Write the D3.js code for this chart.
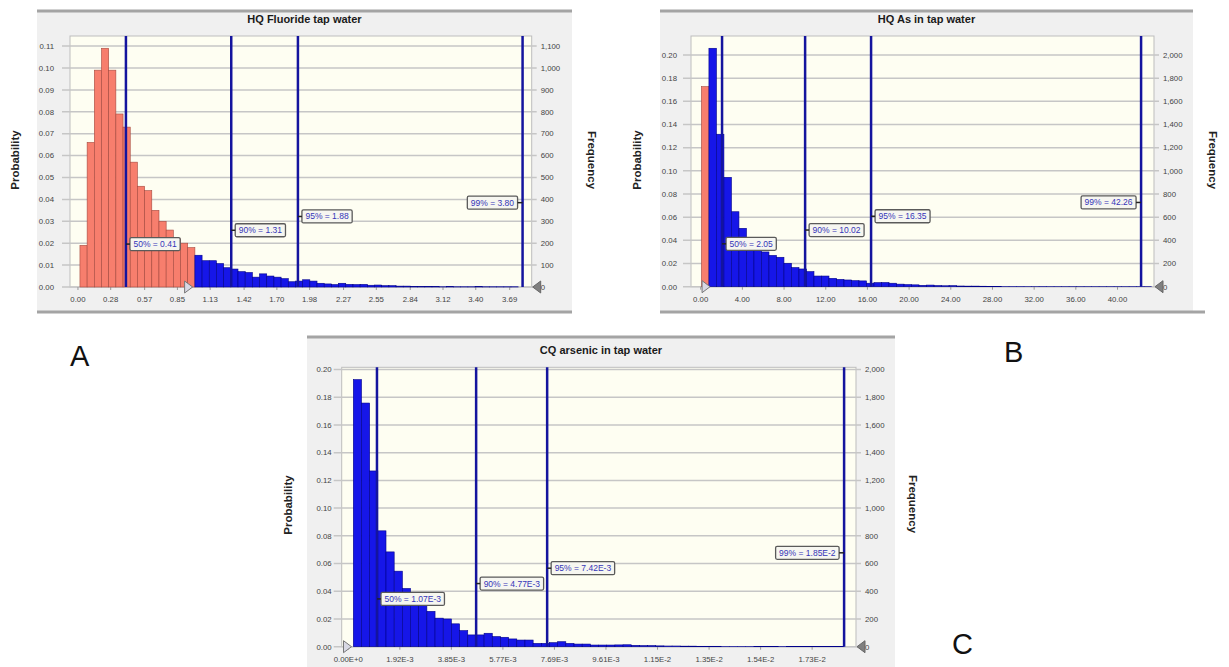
<!DOCTYPE html>
<html lang="en">
<head>
<meta charset="UTF-8">
<script src="https://d3js.org/d3.v7.min.js"></script>
<title>index</title>
<style>
    body { margin: 0; background: #fff; }
    svg { display: block; font-family: "Liberation Sans", Arial, sans-serif; }
</style>
</head>
<body>
<div id="chart"></div>
<script>
// ---- A: HQ fluoride ----
var fluorideTitle = 'HQ Fluoride tap water';
var fluorideBinStart = 0.017;
var fluorideBinWidth = 0.0614;
var fluorideRedBins = 16;
var fluorideProb = [
    0.019, 0.066, 0.099, 0.109, 0.099, 0.079, 0.073, 0.057, 0.046, 0.044, 0.035, 0.030, 0.026, 0.022, 0.020, 0.018,
    0.0145, 0.012, 0.012, 0.0107, 0.0088, 0.0082, 0.007, 0.0066, 0.0045, 0.006, 0.005, 0.0045, 0.0038, 0.0024, 0.0027, 0.0033, 0.0027,
    0.0017, 0.0014, 0.0011, 0.0017, 0.0012, 0.0011, 0.0012, 0.0008, 0.0009, 0.0006, 0.0006, 0.0004, 0.0004, 0.0003,
    0.0002, 0.0003, 0.0002, 0.0001, 0.0002, 0.0001, 0.0001, 0.0001, 0.0002, 0.0001, 0.0001, 0.0001, 0.0001, 0.0001
];
var fluorideXTicks = ['0.00', '0.28', '0.57', '0.85', '1.13', '1.42', '1.70', '1.98', '2.27', '2.55', '2.84', '3.12', '3.40', '3.69'];
var fluorideProbTicks = [0, 0.01, 0.02, 0.03, 0.04, 0.05, 0.06, 0.07, 0.08, 0.09, 0.10, 0.11];
var fluorideFreqTicks = [0, 100, 200, 300, 400, 500, 600, 700, 800, 900, 1000, 1100];
var fluoridePctNames = ['50%', '90%', '95%', '99%'];
var fluoridePctValues = [0.41, 1.31, 1.88, 3.80];
var fluoridePctText = ['0.41', '1.31', '1.88', '3.80'];
var fluorideCertainty = 0.98;

// ---- B: HQ arsenic ----
var hqAsTitle = 'HQ As in tap water';
var hqAsBinStart = 0.07;
var hqAsBinWidth = 0.72;
var hqAsRedBins = 1;
var hqAsProb = [
    0.1727, 0.2058, 0.1316, 0.0944, 0.0647, 0.0504, 0.040, 0.034, 0.030, 0.027, 0.0254, 0.0202, 0.0165, 0.0153, 0.013,
    0.0092, 0.0092, 0.0072, 0.0063, 0.0058, 0.0052, 0.005, 0.003, 0.0035, 0.0036, 0.0030, 0.0022, 0.0018, 0.0016, 0.0012,
    0.0014, 0.0010, 0.0008, 0.0009, 0.0006, 0.0005, 0.0005, 0.0004, 0.0003, 0.0003, 0.0002, 0.0002, 0.0002, 0.0001, 0.0001,
    0.0002, 0.0001, 0.0001, 0.0001, 0.0001, 0.0001, 0.0001, 0.0001, 0.0001, 0.0001, 0.0001, 0.0001, 0.0001, 0.0001, 0.0001
];
var hqAsXTicks = ['0.00', '4.00', '8.00', '12.00', '16.00', '20.00', '24.00', '28.00', '32.00', '36.00', '40.00'];
var hqAsProbTicks = [0, 0.02, 0.04, 0.06, 0.08, 0.10, 0.12, 0.14, 0.16, 0.18, 0.20];
var hqAsFreqTicks = [0, 200, 400, 600, 800, 1000, 1200, 1400, 1600, 1800, 2000];
var hqAsPctNames = ['50%', '90%', '95%', '99%'];
var hqAsPctValues = [2.05, 10.02, 16.35, 42.26];
var hqAsPctText = ['2.05', '10.02', '16.35', '42.26'];
var hqAsCertainty = 0.9;

// ---- C: CQ arsenic ----
var cqAsTitle = 'CQ arsenic in tap water';
var cqAsBinStart = 0.000187;
var cqAsBinWidth = 0.000305;
var cqAsRedBins = 0;
var cqAsProb = [
    0.1927, 0.1758, 0.1268, 0.0836, 0.0684, 0.0545, 0.042, 0.036, 0.0296, 0.0255, 0.0206, 0.020, 0.0165, 0.0116, 0.0085,
    0.0085, 0.0097, 0.0073, 0.0068, 0.0056, 0.0048, 0.0048, 0.0024, 0.0024, 0.0029, 0.0036, 0.0024, 0.0019, 0.0019, 0.0012,
    0.0012, 0.0012, 0.0013, 0.0014, 0.0010, 0.0008, 0.0008, 0.0006, 0.0005, 0.0005, 0.0004, 0.0004, 0.0003, 0.0003, 0.0003,
    0.0002, 0.0002, 0.0002, 0.0002, 0.0001, 0.0001, 0.0001, 0.0002, 0.0001, 0.0001, 0.0001, 0.0001, 0.0001, 0.0001, 0.0001
];
var cqAsXTicks = ['0.00E+0', '1.92E-3', '3.85E-3', '5.77E-3', '7.69E-3', '9.61E-3', '1.15E-2', '1.35E-2', '1.54E-2', '1.73E-2'];
var cqAsXTickValues = [0, 0.001923, 0.003846, 0.005769, 0.007692, 0.009615, 0.011538, 0.013462, 0.015385, 0.017308];
var cqAsProbTicks = [0, 0.02, 0.04, 0.06, 0.08, 0.10, 0.12, 0.14, 0.16, 0.18, 0.20];
var cqAsFreqTicks = [0, 200, 400, 600, 800, 1000, 1200, 1400, 1600, 1800, 2000];
var cqAsPctNames = ['50%', '90%', '95%', '99%'];
var cqAsPctValues = [0.00107, 0.00477, 0.00742, 0.0185];
var cqAsPctText = ['1.07E-3', '4.77E-3', '7.42E-3', '1.85E-2'];
var cqAsCertainty = 0.00012;

var width = 1229;
var height = 667;

var svg = d3.select('#chart')
    .append('svg')
        .attr('width', width)
        .attr('height', height);

svg.append('rect').attr('width', width).attr('height', height).attr('fill', '#fff');

function drawPanel(p) {
    var g = svg.append('g');

    // panel frame
    g.append('rect')
        .attr('x', p.box[0]).attr('y', p.box[1])
        .attr('width', p.box[2] - p.box[0]).attr('height', p.box[3] - p.box[1])
        .attr('fill', '#f0f0f0');
    g.append('line')
        .attr('x1', p.box[0]).attr('x2', p.box[2])
        .attr('y1', p.box[1]).attr('y2', p.box[1])
        .attr('stroke', '#a4a4a4').attr('stroke-width', 3);
    if (p.bottomLine) {
        g.append('line')
            .attr('x1', p.box[0]).attr('x2', p.bottomLine)
            .attr('y1', p.box[3]).attr('y2', p.box[3])
            .attr('stroke', '#a4a4a4').attr('stroke-width', 3);
    }

    g.append('text')
        .attr('x', (p.box[0] + p.box[2]) / 2)
        .attr('y', p.titleY)
        .attr('text-anchor', 'middle')
        .attr('font-size', 11)
        .attr('font-weight', 'bold')
        .attr('fill', '#1a1a1a')
        .text(p.title);

    var x = d3.scaleLinear().domain(p.xDomain).range([p.plot[0], p.plot[2]]);
    var y = d3.scaleLinear().domain([0, p.yMax]).range([p.plot[3], p.plot[1]]);
    var yf = d3.scaleLinear().domain([0, p.yMax * 10000]).range([p.plot[3], p.plot[1]]);

    g.append('rect')
        .attr('x', p.plot[0]).attr('y', p.plot[1])
        .attr('width', p.plot[2] - p.plot[0]).attr('height', p.plot[3] - p.plot[1])
        .attr('fill', '#fefef2')
        .attr('stroke', '#bdbdbd');

    // grid lines + left ticks
    g.selectAll('.grid')
        .data(p.probTicks)
        .enter()
        .append('line')
            .attr('x1', p.plot[0] - 8).attr('x2', p.plot[2] + 5)
            .attr('y1', function(d) { return y(d); })
            .attr('y2', function(d) { return y(d); })
            .attr('stroke', '#c6c6c6')
            .attr('stroke-width', 1.5);

    g.selectAll('.ylab')
        .data(p.probTicks)
        .enter()
        .append('text')
            .attr('x', p.plot[0] - p.yLabGap)
            .attr('y', function(d) { return y(d) + 2.8; })
            .attr('text-anchor', 'end')
            .attr('font-size', 7.8)
            .attr('fill', '#444')
            .text(d3.format('.2f'));

    g.selectAll('.flab')
        .data(p.freqTicks)
        .enter()
        .append('text')
            .attr('x', p.plot[2] + 9)
            .attr('y', function(d) { return yf(d) + 2.8; })
            .attr('font-size', 7.8)
            .attr('fill', '#444')
            .text(d3.format(','));

    // x ticks
    g.selectAll('.xtick')
        .data(p.xTickValues)
        .enter()
        .append('line')
            .attr('x1', function(d) { return x(d); })
            .attr('x2', function(d) { return x(d); })
            .attr('y1', p.plot[3]).attr('y2', p.plot[3] + 3)
            .attr('stroke', '#999');

    g.selectAll('.xlab')
        .data(p.xTicks)
        .enter()
        .append('text')
            .attr('x', function(d, i) { return x(p.xTickValues[i]); })
            .attr('y', p.plot[3] + 15)
            .attr('text-anchor', 'middle')
            .attr('font-size', 7.8)
            .attr('fill', '#444')
            .text(function(d) { return d; });

    // histogram bars
    var bw = x(p.binWidth) - x(0);
    g.selectAll('.bar')
        .data(p.prob)
        .enter()
        .append('rect')
            .attr('x', function(d, i) { return x(p.binStart + i * p.binWidth); })
            .attr('width', bw)
            .attr('y', function(d) { return y(d); })
            .attr('height', function(d) { return p.plot[3] - y(d); })
            .attr('fill', function(d, i) { return i < p.redBins ? '#f77e6d' : '#1616e8'; })
            .attr('stroke', function(d, i) { return i < p.redBins ? '#a5493f' : '#00008a'; })
            .attr('stroke-width', 0.6);

    // percentile lines
    g.selectAll('.pct')
        .data(p.pctValues)
        .enter()
        .append('line')
            .attr('x1', function(d) { return x(d); })
            .attr('x2', function(d) { return x(d); })
            .attr('y1', p.plot[1]).attr('y2', p.plot[3])
            .attr('stroke', '#14149e')
            .attr('stroke-width', 2.5);

    // percentile labels
    var ph = p.plot[3] - p.plot[1];
    p.pctValues.forEach(function(v, i) {
        var cy = p.plot[3] - ph * (0.171 + 0.055 * i);
        var lx = x(v);
        var label = g.append('g');
        var t = label.append('text')
            .attr('font-size', 8.5)
            .attr('fill', '#3535b8')
            .text(p.pctNames[i] + ' = ' + p.pctText[i]);
        var tw = t.node().getComputedTextLength();
        var boxW = tw + 7;
        var left = i === 3;
        var bx = left ? lx - 5 - boxW : lx + 4;
        label.insert('rect', 'text')
            .attr('x', bx).attr('y', cy - 6.5)
            .attr('width', boxW).attr('height', 13)
            .attr('rx', 1.5)
            .attr('fill', '#f6f6f0')
            .attr('stroke', '#5a5a5a')
            .attr('stroke-width', 1.3);
        t.attr('x', bx + 3.5).attr('y', cy + 3);
        label.append('line')
            .attr('x1', lx).attr('x2', left ? bx + boxW : bx)
            .attr('y1', cy).attr('y2', cy)
            .attr('stroke', '#222').attr('stroke-width', 1.5);
    });

    // certainty grabbers
    var by = p.plot[3];
    var tx = x(p.certainty);
    g.append('path')
        .attr('d', 'M' + (tx - 8) + ',' + (by - 6) + 'L' + tx + ',' + by + 'L' + (tx - 8) + ',' + (by + 6) + 'Z')
        .attr('fill', '#d8d8e4').attr('stroke', '#777');
    var rx = p.plot[2] + 1;
    g.append('path')
        .attr('d', 'M' + (rx + 8) + ',' + (by - 6) + 'L' + rx + ',' + by + 'L' + (rx + 8) + ',' + (by + 6) + 'Z')
        .attr('fill', '#808080').attr('stroke', '#666');

    // axis titles
    g.append('text')
        .attr('transform', 'translate(' + p.probLabel[0] + ',' + p.probLabel[1] + ') rotate(-90)')
        .attr('text-anchor', 'middle')
        .attr('dy', '0.35em')
        .attr('font-size', 11.5)
        .attr('font-weight', 'bold')
        .attr('fill', '#222')
        .text('Probability');
    g.append('text')
        .attr('transform', 'translate(' + p.freqLabel[0] + ',' + p.freqLabel[1] + ') rotate(90)')
        .attr('text-anchor', 'middle')
        .attr('dy', '0.35em')
        .attr('font-size', 11.5)
        .attr('font-weight', 'bold')
        .attr('fill', '#222')
        .text('Frequency');
}

drawPanel({
    title: fluorideTitle, prob: fluorideProb, binStart: fluorideBinStart, binWidth: fluorideBinWidth,
    redBins: fluorideRedBins, xTicks: fluorideXTicks, xTickValues: fluorideXTicks.map(Number),
    probTicks: fluorideProbTicks, freqTicks: fluorideFreqTicks,
    pctNames: fluoridePctNames, pctValues: fluoridePctValues, pctText: fluoridePctText,
    certainty: fluorideCertainty,
    box: [37, 11, 572, 312], bottomLine: 572, titleY: 22.5, yLabGap: 16,
    plot: [70, 36, 531.7, 287], xDomain: [-0.068, 3.878], yMax: 0.1146,
    probLabel: [15, 160], freqLabel: [592, 160]
});

drawPanel({
    title: hqAsTitle, prob: hqAsProb, binStart: hqAsBinStart, binWidth: hqAsBinWidth,
    redBins: hqAsRedBins, xTicks: hqAsXTicks, xTickValues: hqAsXTicks.map(Number),
    probTicks: hqAsProbTicks, freqTicks: hqAsFreqTicks,
    pctNames: hqAsPctNames, pctValues: hqAsPctValues, pctText: hqAsPctText,
    certainty: hqAsCertainty,
    box: [660, 11, 1193, 312], bottomLine: 1205, titleY: 22.5, yLabGap: 14,
    plot: [691, 36, 1154, 286.7], xDomain: [-0.93, 43.5], yMax: 0.2164,
    probLabel: [637, 160], freqLabel: [1213, 160]
});

drawPanel({
    title: cqAsTitle, prob: cqAsProb, binStart: cqAsBinStart, binWidth: cqAsBinWidth,
    redBins: cqAsRedBins, xTicks: cqAsXTicks, xTickValues: cqAsXTickValues,
    probTicks: cqAsProbTicks, freqTicks: cqAsFreqTicks,
    pctNames: cqAsPctNames, pctValues: cqAsPctValues, pctText: cqAsPctText,
    certainty: cqAsCertainty,
    box: [307, 337, 895, 690], bottomLine: 0, titleY: 354, yLabGap: 10,
    plot: [341.7, 367.3, 856, 646.7], xDomain: [-0.000246, 0.018944], yMax: 0.2016,
    probLabel: [288, 505], freqLabel: [913, 504]
});

// panel letters
var letters = [['A', 70, 366], ['B', 1004, 362], ['C', 952, 654]];
svg.selectAll('.letter')
    .data(letters)
    .enter()
    .append('text')
        .attr('x', function(d) { return d[1]; })
        .attr('y', function(d) { return d[2]; })
        .attr('font-size', 29)
        .attr('fill', '#111')
        .text(function(d) { return d[0]; });
</script>
</body>
</html>
